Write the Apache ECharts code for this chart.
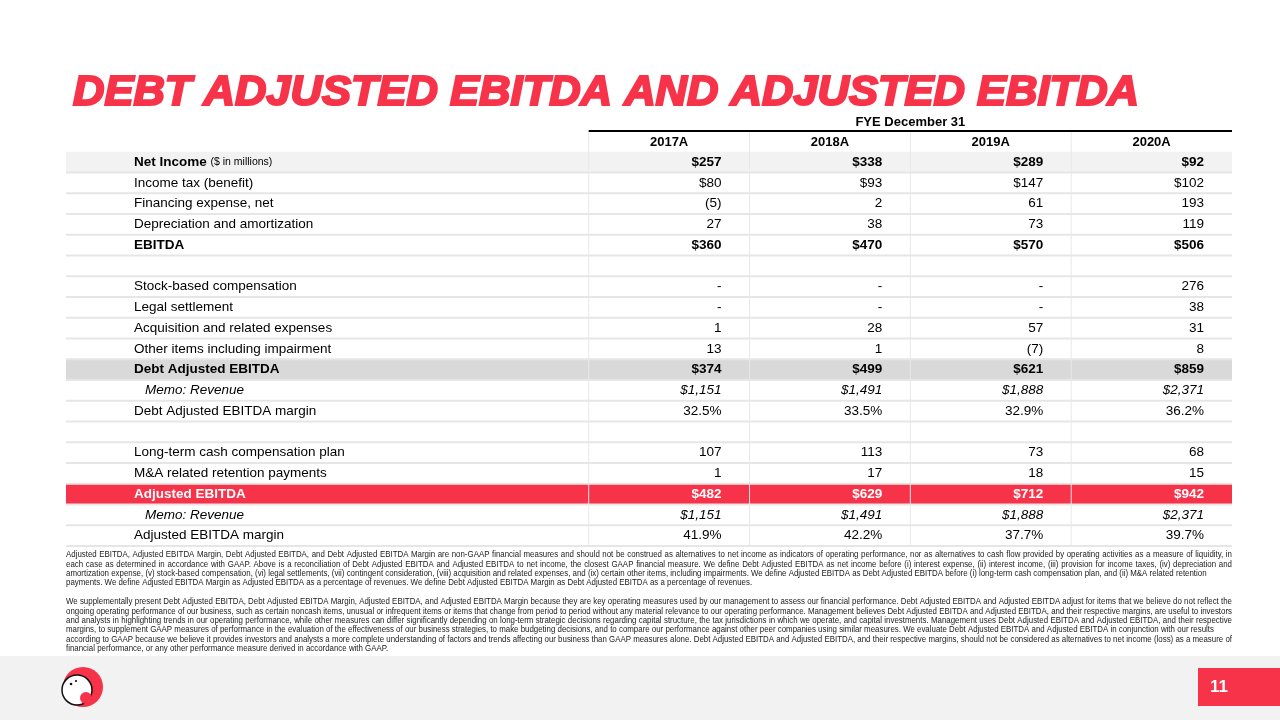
<!DOCTYPE html>
<html>
<head>
<meta charset="utf-8">
<script src="https://cdn.jsdelivr.net/npm/echarts@6/dist/echarts.min.js"></script>
<style>
html, body { margin: 0; padding: 0; background: #fff; }
#main { width: 1280px; height: 720px; }
</style>
</head>
<body>
<div id="main"></div>
<script>
// ---- data ----
const years = ['2017A', '2018A', '2019A', '2020A'];
const netIncome = [257, 338, 289, 92];
const incomeTax = [80, 93, 147, 102];
const financingExpense = [-5, 2, 61, 193];
const depreciation = [27, 38, 73, 119];
const ebitda = [360, 470, 570, 506];
const stockComp = [null, null, null, 276];
const legalSettlement = [null, null, null, 38];
const acquisitionExpenses = [1, 28, 57, 31];
const otherItems = [13, 1, -7, 8];
const debtAdjEbitda = [374, 499, 621, 859];
const revenue = [1151, 1491, 1888, 2371];
const debtAdjMargin = [32.5, 33.5, 32.9, 36.2];
const ltCashComp = [107, 113, 73, 68];
const retentionPayments = [1, 17, 18, 15];
const adjEbitda = [482, 629, 712, 942];
const adjMargin = [41.9, 42.2, 37.7, 39.7];

const rowLabels = [
    'Net Income', 'Income tax (benefit)', 'Financing expense, net', 'Depreciation and amortization', 'EBITDA',
    '', 'Stock-based compensation', 'Legal settlement', 'Acquisition and related expenses',
    'Other items including impairment', 'Debt Adjusted EBITDA', 'Memo: Revenue', 'Debt Adjusted EBITDA margin',
    '', 'Long-term cash compensation plan', 'M&A related retention payments', 'Adjusted EBITDA',
    'Memo: Revenue', 'Adjusted EBITDA margin'
];
const rowValues = [
    netIncome, incomeTax, financingExpense, depreciation, ebitda,
    null, stockComp, legalSettlement, acquisitionExpenses, otherItems, debtAdjEbitda, revenue, debtAdjMargin,
    null, ltCashComp, retentionPayments, adjEbitda, revenue, adjMargin
];
const rowFormats = [
    'usd', 'usd', 'num', 'num', 'usd',
    '', 'num', 'num', 'num', 'num', 'usd', 'usd', 'pct',
    '', 'num', 'num', 'usd', 'usd', 'pct'
];

const titleText = 'DEBT ADJUSTED EBITDA AND ADJUSTED EBITDA';
const footnoteParas = [
    [
        ['Adjusted EBITDA, Adjusted EBITDA Margin, Debt Adjusted EBITDA, and Debt Adjusted EBITDA Margin are non-GAAP financial measures and should not be construed as alternatives to net income as indicators of operating performance, nor as alternatives to cash flow provided by operating activities as a measure of liquidity, in', true],
        ['each case as determined in accordance with GAAP. Above is a reconciliation of Debt Adjusted EBITDA and Adjusted EBITDA to net income, the closest GAAP financial measure. We define Debt Adjusted EBITDA as net income before (i) interest expense, (ii) interest income, (iii) provision for income taxes, (iv) depreciation and', true],
        ['amortization expense, (v) stock-based compensation, (vi) legal settlements, (vii) contingent consideration, (viii) acquisition and related expenses, and (ix) certain other items, including impairments.  We define Adjusted EBITDA as Debt Adjusted EBITDA before (i) long-term cash compensation plan, and (ii) M&A related retention', false],
        ['payments. We define Adjusted EBITDA Margin as Adjusted EBITDA as a percentage of revenues. We define Debt Adjusted EBITDA Margin as Debt Adjusted EBITDA as a percentage of revenues.', false]
    ],
    [
        ['We supplementally present Debt Adjusted EBITDA, Debt Adjusted EBITDA Margin, Adjusted EBITDA, and Adjusted EBITDA Margin because they are key operating measures used by our management to assess our financial performance. Debt Adjusted EBITDA and Adjusted EBITDA adjust for items that we believe do not reflect the', true],
        ['ongoing operating performance of our business, such as certain noncash items, unusual or infrequent items or items that change from period to period without any material relevance to our operating performance. Management believes Debt Adjusted EBITDA and Adjusted EBITDA, and their respective margins, are useful to investors', true],
        ['and analysts in highlighting trends in our operating performance, while other measures can differ significantly depending on long-term strategic decisions regarding capital structure, the tax jurisdictions in which we operate, and capital investments. Management uses Debt Adjusted EBITDA and Adjusted EBITDA, and their respective', true],
        ['margins, to supplement GAAP measures of performance in the evaluation of the effectiveness of our business strategies, to make budgeting decisions, and to compare our performance against other peer companies using similar measures. We evaluate Debt Adjusted EBITDA and Adjusted EBITDA in conjunction with our results', false],
        ['according to GAAP because we believe it provides investors and analysts a more complete understanding of factors and trends affecting our business than GAAP measures alone. Debt Adjusted EBITDA and Adjusted EBITDA, and their respective margins, should not be considered as alternatives to net income (loss) as a measure of', true],
        ['financial performance, or any other performance measure derived in accordance with GAAP.', false]
    ]
];

// ---- look ----
const RED = '#f7334a';
const FONT = '"Liberation Sans", Arial, sans-serif';
const LABEL_W = 3.25;              // label column width in column units
const X_MAX = LABEL_W + years.length;
const boldRows = [0, 4, 10, 16];
const italicRows = [11, 17];
const rowBg = { 0: '#f2f2f2', 10: '#d9d9d9', 16: RED };

function fmt(v, kind) {
    if (v == null) return '-';
    if (kind === 'usd') return '$' + v.toLocaleString('en-US');
    if (kind === 'pct') return v.toFixed(1) + '%';
    return v < 0 ? '(' + (-v) + ')' : String(v);
}

// cells: [x0, x1, row] plus a side table with text/style
const cells = [];
const cellInfo = [];
function addCell(x0, x1, row, info) {
    cells.push([x0, x1, row]);
    cellInfo.push(info);
}
addCell(LABEL_W, X_MAX, -2, { text: 'FYE December 31', align: 'center', font: 'bold 13px ' + FONT, dy: 2 });
years.forEach((y, i) => {
    addCell(LABEL_W + i, LABEL_W + i + 1, -1, { text: y, align: 'center', font: 'bold 13px ' + FONT, dy: 1 });
});
rowLabels.forEach((label, r) => {
    const bold = boldRows.includes(r);
    const italic = italicRows.includes(r);
    const color = r === 16 ? '#fff' : '#000';
    const font = (italic ? 'italic ' : '') + (bold ? 'bold ' : '') + '13.5px ' + FONT;
    if (label) {
        const info = { text: label, align: 'left', font: font, color: color, pad: italic ? 79 : 68 };
        if (r === 0) info.rich = true;
        addCell(0, LABEL_W, r, info);
    }
    const vals = rowValues[r];
    if (vals) {
        vals.forEach((v, i) => {
            addCell(LABEL_W + i, LABEL_W + i + 1, r, { text: fmt(v, rowFormats[r]), align: 'right', font: font, color: color, pad: 28 });
        });
    }
});

const bgRows = Object.keys(rowBg).map(r => [0, X_MAX, +r]);
const hLines = rowLabels.map((l, r) => [0, X_MAX, r + 1]);
const vLines = years.map((y, i) => [LABEL_W + i, -1, 19]);

// ---- chart ----
const chart = echarts.init(document.getElementById('main'));

const measure = document.createElement('canvas').getContext('2d');
function textWidth(t, font) {
    measure.font = font;
    return measure.measureText(t).width;
}

// footnote, justified word by word; a line that is too long is squeezed
const noteFont = '7.9px ' + FONT;
const noteLeft = 66, noteRight = 1232;
const noteTops = [555, 602];
const notePitch = 9.35;
const noteEls = [];
footnoteParas.forEach((para, p) => {
    para.forEach(([line, justify], li) => {
        const words = line.split(/\s+/);
        const ws = words.map(w => textWidth(w, noteFont));
        const total = ws.reduce((a, b) => a + b, 0);
        const space = textWidth(' ', noteFont);
        const avail = noteRight - noteLeft;
        const natural = total + space * (words.length - 1);
        const sx = natural > avail ? avail / natural : 1;
        let gap = space;
        if (justify && words.length > 1) gap = (avail / sx - total) / (words.length - 1);
        let x = 0;
        const children = [];
        words.forEach((w, k) => {
            children.push({
                type: 'text', x: x, y: 0, silent: true,
                style: { text: w, font: noteFont, fill: '#1a1a1a', verticalAlign: 'middle' }
            });
            x += ws[k] + gap;
        });
        noteEls.push({
            type: 'group', x: noteLeft, y: noteTops[p] + li * notePitch, scaleX: sx, scaleY: 1.05,
            children: children
        });
    });
});

const titleFont = 'italic bold 42px ' + FONT;
const titleScale = 1066 / textWidth(titleText, titleFont);

const option = {
    animation: false,
    grid: { left: 66, right: 48, top: 110.25, bottom: 174 },
    xAxis: { type: 'value', min: 0, max: X_MAX, show: false },
    yAxis: { type: 'value', min: -2, max: 19, inverse: true, show: false },
    graphic: [
        {
            type: 'text', x: 73, y: 93, scaleX: titleScale, z: 10,
            style: { text: titleText, font: titleFont, fill: RED, stroke: RED, lineWidth: 2.2, verticalAlign: 'middle' }
        },
        { type: 'rect', shape: { x: 0, y: 656, width: 1280, height: 64 }, style: { fill: '#f2f2f2' }, z: 0 },
        // logo
        { type: 'circle', shape: { cx: 83, cy: 687, r: 20 }, style: { fill: RED }, z: 1 },
        { type: 'circle', shape: { cx: 77, cy: 690, r: 15 }, style: { fill: '#fff', stroke: '#111', lineWidth: 1.5 }, z: 2 },
        { type: 'circle', shape: { cx: 86, cy: 698, r: 6 }, style: { fill: RED }, z: 3 },
        { type: 'circle', shape: { cx: 71, cy: 684, r: 1.3 }, style: { fill: '#111' }, z: 3 },
        { type: 'circle', shape: { cx: 76, cy: 681, r: 1.1 }, style: { fill: '#111' }, z: 3 },
        // page number
        { type: 'rect', shape: { x: 1198, y: 668, width: 82, height: 38 }, style: { fill: RED }, z: 1 },
        { type: 'text', x: 1210, y: 687, z: 2, style: { text: '11', font: 'bold 17px ' + FONT, fill: '#fff', verticalAlign: 'middle' } }
    ].concat(noteEls),
    series: [
        {
            type: 'custom', name: 'rowBg', silent: true, z: 1,
            data: bgRows,
            renderItem: function (params, api) {
                const a = api.coord([api.value(0), api.value(2)]);
                const b = api.coord([api.value(1), api.value(2) + 1]);
                return { type: 'rect', shape: { x: a[0], y: a[1], width: b[0] - a[0], height: b[1] - a[1] }, style: { fill: rowBg[api.value(2)] } };
            }
        },
        {
            type: 'custom', name: 'hLines', silent: true, z: 2,
            data: hLines,
            renderItem: function (params, api) {
                const a = api.coord([api.value(0), api.value(2)]);
                const b = api.coord([api.value(1), api.value(2)]);
                return { type: 'line', shape: { x1: a[0], y1: a[1], x2: b[0], y2: b[1] }, style: { stroke: '#e6e6e6', lineWidth: 2 } };
            }
        },
        {
            type: 'custom', name: 'vLines', silent: true, z: 3,
            data: vLines,
            renderItem: function (params, api) {
                const a = api.coord([api.value(0), api.value(1)]);
                const b = api.coord([api.value(0), api.value(2)]);
                return { type: 'line', shape: { x1: a[0], y1: a[1], x2: b[0], y2: b[1] }, style: { stroke: '#e8e8e8', lineWidth: 1 } };
            }
        },
        {
            type: 'custom', name: 'headerRule', silent: true, z: 4,
            data: [[LABEL_W, X_MAX, -1]],
            renderItem: function (params, api) {
                const a = api.coord([api.value(0), api.value(2)]);
                const b = api.coord([api.value(1), api.value(2)]);
                return { type: 'line', shape: { x1: a[0], y1: a[1], x2: b[0], y2: b[1] }, style: { stroke: '#000', lineWidth: 2 } };
            }
        },
        {
            type: 'custom', name: 'cells', silent: true, z: 5,
            data: cells,
            renderItem: function (params, api) {
                const c = cellInfo[params.dataIndex];
                const a = api.coord([api.value(0), api.value(2)]);
                const b = api.coord([api.value(1), api.value(2) + 1]);
                const y = (a[1] + b[1]) / 2 + (c.dy || 0);
                let x;
                if (c.align === 'center') x = (a[0] + b[0]) / 2;
                else if (c.align === 'left') x = a[0] + c.pad;
                else x = b[0] - c.pad;
                const style = { text: c.text, x: x, y: y, align: c.align, verticalAlign: 'middle', font: c.font, fill: c.color || '#000' };
                if (c.rich) {
                    style.text = '{b|' + c.text + '} {s|($ in millions)}';
                    style.rich = {
                        b: { font: 'bold 13.5px ' + FONT, fill: '#000' },
                        s: { font: '10.5px ' + FONT, fill: '#000' }
                    };
                }
                return { type: 'text', style: style };
            }
        }
    ]
};
chart.setOption(option);
</script>
</body>
</html>
